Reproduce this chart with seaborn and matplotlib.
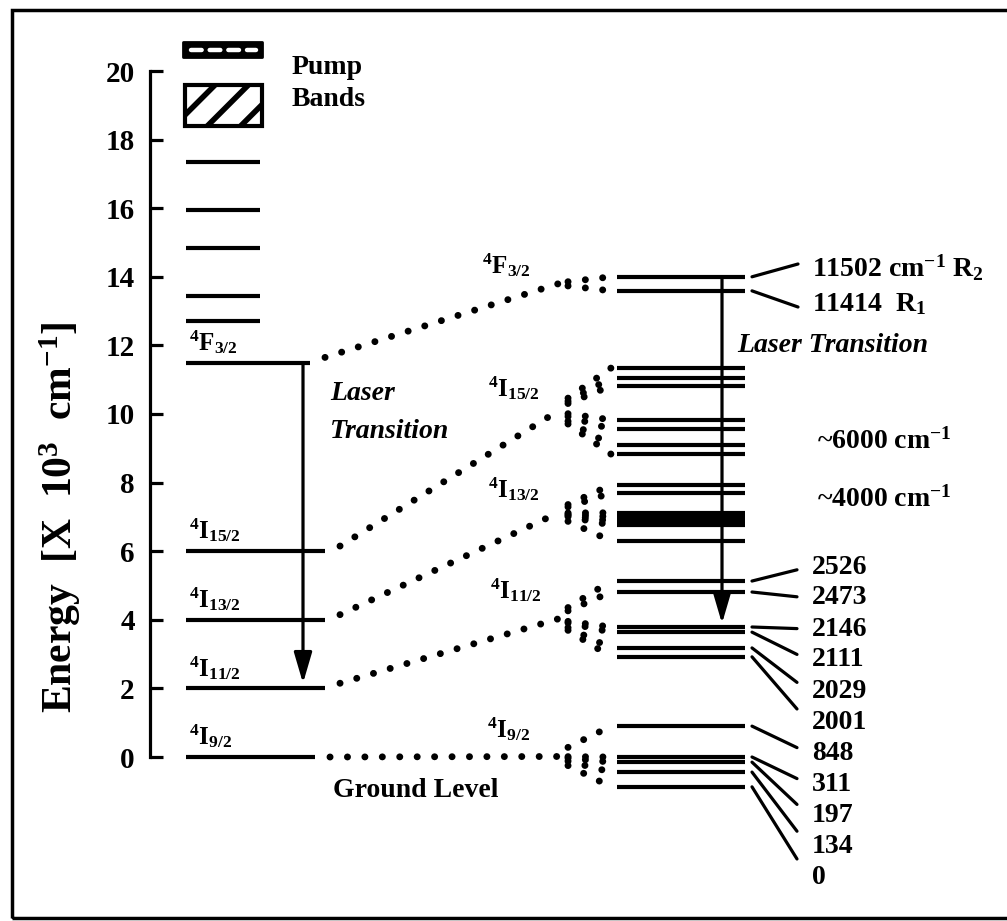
import matplotlib
matplotlib.use("Agg")
import matplotlib.pyplot as plt
from matplotlib.patches import Rectangle
import seaborn as sns

# ---- level data --------------------------------------------------------
energy_ticks = [0, 2, 4, 6, 8, 10, 12, 14, 16, 18, 20]

# free-ion manifolds on the left ladder (10^3 cm^-1)
manifold_labels = [r"$^{4}$F$_{3/2}$", r"$^{4}$I$_{15/2}$", r"$^{4}$I$_{13/2}$",
                   r"$^{4}$I$_{11/2}$", r"$^{4}$I$_{9/2}$"]
manifold_energy = [11.5, 6.0, 4.0, 2.0, 0.0]

# higher excited levels and pump bands (10^3 cm^-1)
upper_levels = [17.35, 15.95, 14.85, 13.45, 12.7]
pump_band_hatched = [18.4, 19.6]
pump_band_dashed = [20.4, 20.85]

# Stark components (cm^-1) and their heights on the expanded schematic scale
f32_stark = [11414, 11502]
f32_schematic = [13.59, 14.00]
i11_stark = [2001, 2029, 2111, 2146, 2473, 2526]
i11_schematic = [2.92, 3.18, 3.64, 3.79, 4.81, 5.13]
i9_stark = [0, 134, 197, 311, 848]
i9_schematic = [-0.87, -0.44, -0.15, 0.00, 0.90]
# unlabelled Stark components of 4I15/2 and 4I13/2 on the expanded scale
i15_schematic = [11.34, 11.05, 10.82, 9.83, 9.56, 9.10, 8.83]
i13_schematic = [7.93, 7.70, 7.12, 7.00, 6.88, 6.76, 6.30]

# ---- style -------------------------------------------------------------
sns.set_theme(style="white")
plt.rcParams["font.family"] = ["Liberation Serif", "DejaVu Serif"]
plt.rcParams["font.weight"] = "bold"
plt.rcParams["mathtext.fontset"] = "custom"
plt.rcParams["mathtext.rm"] = "Liberation Serif:bold"
plt.rcParams["mathtext.it"] = "Liberation Serif:italic:bold"
plt.rcParams["mathtext.bf"] = "Liberation Serif:bold"
plt.rcParams["hatch.linewidth"] = 4.0
plt.rcParams["hatch.color"] = "black"

INK = "black"
FS = 20

fig = plt.figure(figsize=(10.07, 9.21), dpi=100, facecolor="white")
ax = fig.add_axes([0, 0, 1, 1])
ax.set_facecolor("white")

# x runs in canvas columns; y is energy in 10^3 cm^-1
PX0, PXS = 757.0, 34.3
def Y(row):
    return (PX0 - row) / PXS

ax.set_xlim(0, 1007)
ax.set_ylim(Y(921), Y(0))

# ---- energy axis -------------------------------------------------------
sns.despine(ax=ax, top=True, right=True, bottom=True, left=False)
ax.spines["left"].set_position(("data", 150))
ax.spines["left"].set_bounds(0, 20)
ax.spines["left"].set_linewidth(2.3)
ax.spines["left"].set_color(INK)
ax.set_xticks([])
ax.set_yticks(energy_ticks)
ax.set_yticklabels([str(t) for t in energy_ticks])
ax.tick_params(axis="y", direction="in", length=9, width=2.3, pad=11,
               labelsize=21, colors=INK, left=True)
for lab in ax.get_yticklabels():
    lab.set_fontweight("bold")

ax.text(60, Y(517), r"Energy  [X  10$^{3}$  cm$^{-1}$]", rotation=90,
        ha="center", va="center", fontsize=30, color=INK)

# outer frame
ax.add_patch(Rectangle((12, Y(918)), 1000, Y(10) - Y(918), fill=False,
                       lw=2.5, ec=INK, clip_on=False))

# ---- pump bands --------------------------------------------------------
d0, d1 = pump_band_dashed
ax.add_patch(Rectangle((183, d0), 79, d1 - d0, fc=INK, ec=INK, lw=2,
                       joinstyle="round"))
ax.plot([191, 256], [(d0 + d1) / 2] * 2, color="white", lw=3.2,
        linestyle=(0, (2.4, 1.8)), solid_capstyle="round", dash_capstyle="round")
h0, h1 = pump_band_hatched
ax.add_patch(Rectangle((185, h0), 77, h1 - h0, fc="white", ec=INK, lw=3,
                       hatch="/"))
ax.text(292, Y(68), "Pump", fontsize=FS, va="center", ha="left", color=INK)
ax.text(292, Y(99), "Bands", fontsize=FS, va="center", ha="left", color=INK)

# ---- left ladder ---------------------------------------------------------
ax.hlines(upper_levels, 186, 260, colors=INK, lw=3)
line_ends = [310, 325, 325, 325, 315]
for e, x1, lab in zip(manifold_energy, line_ends, manifold_labels):
    ax.hlines(e, 186, x1, colors=INK, lw=3)
    ax.text(189, e + 0.36, lab, fontsize=18, ha="left", va="baseline", color=INK)

arrow_kw = dict(arrowstyle="-|>,head_length=0.75,head_width=0.22", lw=2.3,
                color=INK, shrinkA=0, shrinkB=0, mutation_scale=25)
ax.annotate("", xy=(303, manifold_energy[3] + 0.15), xytext=(303, manifold_energy[0]),
            arrowprops=arrow_kw)
ax.text(330, Y(393), "Laser", fontsize=FS, style="italic", va="center", color=INK)
ax.text(330, Y(431), "Transition", fontsize=FS, style="italic", va="center", color=INK)
ax.text(333, Y(790), "Ground Level", fontsize=FS, va="center", color=INK)

# ---- expanded Stark structure ------------------------------------------
groups = [f32_schematic, i15_schematic, i13_schematic, i11_schematic, i9_schematic]

for g in groups:
    ax.hlines(g, 617, 745, colors=INK, lw=3)

dots = dict(color=INK, lw=5.0, linestyle=(0, (0.01, 2.5)),
            dash_capstyle="round", solid_capstyle="round")
for e, x1, g in zip(manifold_energy, line_ends, groups):
    jx, jy = 558, (min(g) + max(g)) / 2
    ax.plot([x1 + 15, jx], [e + (0.15 if e > 0 else 0), jy], **dots)
    for gy in g:
        ax.plot([jx + 10, 611], [jy + 0.3 * (gy - jy), gy], **dots)

right_labels = [r"$^{4}$F$_{3/2}$", r"$^{4}$I$_{15/2}$", r"$^{4}$I$_{13/2}$",
                r"$^{4}$I$_{11/2}$", r"$^{4}$I$_{9/2}$"]
label_pos = [(482, 273), (488, 396), (488, 497), (490, 598), (487, 737)]
for lab, (lx, ly) in zip(right_labels, label_pos):
    ax.text(lx, Y(ly), lab, fontsize=18, ha="left", va="baseline", color=INK)

# laser transition between expanded levels
ax.annotate("", xy=(722, i11_schematic[3] + 0.1), xytext=(722, max(f32_schematic)),
            arrowprops=arrow_kw)
ax.text(737, Y(346), "Laser Transition", fontsize=FS, style="italic",
        va="center", color=INK)

# 4F3/2 doublet labels
ax.plot([752, 798], [f32_schematic[1], Y(264)], color=INK, lw=2.3)
ax.plot([752, 798], [f32_schematic[0], Y(307)], color=INK, lw=2.3)
ax.text(812, Y(268), r"%d cm$^{-1}$ R$_{2}$" % f32_stark[1], fontsize=FS,
        va="center", color=INK)
ax.text(812, Y(304), r"%d  R$_{1}$" % f32_stark[0], fontsize=FS,
        va="center", color=INK)

ax.text(817, Y(441), r"~6000 cm$^{-1}$", fontsize=FS, va="center", color=INK)
ax.text(817, Y(499), r"~4000 cm$^{-1}$", fontsize=FS, va="center", color=INK)

# 4I11/2 and 4I9/2 component labels with leaders
pairs = (sorted(zip(i11_stark, i11_schematic), reverse=True)
         + sorted(zip(i9_stark, i9_schematic), reverse=True))
for k, (val, ly) in enumerate(pairs):
    ty = Y(567) - k * 31.0 / PXS
    ax.plot([752, 797], [ly, ty + 0.2 * (ly - ty)], color=INK, lw=2.3,
            solid_capstyle="round")
    ax.text(812, ty, str(val), fontsize=FS, va="center", ha="left", color=INK)

fig.savefig("out.png", dpi=100, facecolor="white")
